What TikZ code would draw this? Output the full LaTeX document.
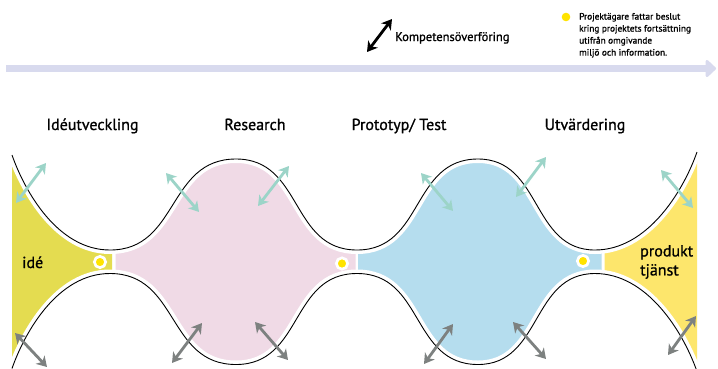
\documentclass[tikz,border=0pt]{standalone}
\usepackage{fontspec}
\setmainfont{PT Sans}
\newfontfamily\medfont{PT Sans}[FakeBold=1.0]
\usetikzlibrary{arrows.meta}

\definecolor{ideyellow}{HTML}{E4DC50}
\definecolor{respink}{HTML}{F0DAE6}
\definecolor{protoblue}{HTML}{B5DDEE}
\definecolor{prodyellow}{HTML}{FDE66C}
\definecolor{dotyellow}{HTML}{FFE300}
\definecolor{arrowteal}{HTML}{9CD4C8}
\definecolor{arrowgrey}{HTML}{7D8180}
\definecolor{timeline}{HTML}{D8DAEE}

% upper and lower outline of the phase funnel
\def\topcurve{(12,155) .. controls (25,192) and (58,250) .. (110,250)
  .. controls (179,250) and (167,159) .. (236,159)
  .. controls (303,159) and (290,250) .. (357,250)
  .. controls (424,250) and (411,159) .. (478,159)
  .. controls (542,159) and (531,250) .. (595,250)
  .. controls (647,250) and (683,192) .. (697,152)}
\def\botcurve{(12,368.5) .. controls (25,331.5) and (58,273.5) .. (110,273.5)
  .. controls (179,273.5) and (167,364.5) .. (236,364.5)
  .. controls (303,364.5) and (290,273.5) .. (357,273.5)
  .. controls (424,273.5) and (411,364.5) .. (478,364.5)
  .. controls (542,364.5) and (531,273.5) .. (595,273.5)
  .. controls (647,273.5) and (683,331.5) .. (697,371.5)}
\def\funnel{(12,155) .. controls (25,192) and (58,250) .. (110,250)
  .. controls (179,250) and (167,159) .. (236,159)
  .. controls (303,159) and (290,250) .. (357,250)
  .. controls (424,250) and (411,159) .. (478,159)
  .. controls (542,159) and (531,250) .. (595,250)
  .. controls (647,250) and (683,192) .. (697,152)
  -- (697,371.5)
  .. controls (683,331.5) and (647,273.5) .. (595,273.5)
  .. controls (531,273.5) and (542,364.5) .. (478,364.5)
  .. controls (411,364.5) and (424,273.5) .. (357,273.5)
  .. controls (290,273.5) and (303,364.5) .. (236,364.5)
  .. controls (167,364.5) and (179,273.5) .. (110,273.5)
  .. controls (58,273.5) and (25,331.5) .. (12,368.5) -- cycle}

\tikzset{
  biarrow/.style={line width=2.8pt,
    {Stealth[length=10pt,width=12pt,inset=3pt]}-{Stealth[length=10pt,width=12pt,inset=3pt]}},
  tealarrow/.style={biarrow, draw=arrowteal},
  greyarrow/.style={biarrow, draw=arrowgrey},
  blackarrow/.style={biarrow, draw=black},
  gapline/.style={draw=white, line width=8pt},
  outline/.style={draw=black, line width=0.9pt},
  decision/.style={circle, fill=dotyellow, draw=white, line width=2.7pt,
    minimum size=11.3pt, inner sep=0pt},
  legenddot/.style={circle, fill=dotyellow, minimum size=8.6pt, inner sep=0pt},
  phasetitle/.style={font=\medfont\fontsize{16}{18}\selectfont, inner sep=0pt, anchor=base},
  phaselabel/.style={font=\medfont\fontsize{16}{19}\selectfont, inner sep=0pt, align=left},
  legendtext/.style={font=\medfont\fontsize{12.5}{14}\selectfont, inner sep=0pt, anchor=base west},
  notetext/.style={font=\medfont\fontsize{9.3}{12}\selectfont, inner sep=0pt, align=left, anchor=north west},
  timelinearrow/.style={draw=timeline, line width=7pt,
    -{Triangle[length=11pt,width=20pt,round]}},
}

\begin{document}
\begin{tikzpicture}[x=1pt,y=-1pt]
\useasboundingbox (0,0) rectangle (718,368);
\clip (0,0) rectangle (718,368);
\fill[white] (0,0) rectangle (718,368);

% coloured phase areas
\begin{scope}\clip (0,0) rectangle (112,368); \fill[ideyellow] \funnel; \end{scope}
\begin{scope}\clip (115.5,0) rectangle (355.5,368); \fill[respink] \funnel; \end{scope}
\begin{scope}\clip (358,0) rectangle (601.5,368); \fill[protoblue] \funnel; \end{scope}
\begin{scope}\clip (604.5,0) rectangle (697,368); \fill[prodyellow] \funnel; \end{scope}

% white margin and black outline
\path[gapline] \topcurve;
\path[gapline] \botcurve;
\path[outline] \topcurve;
\path[outline] \botcurve;

% decision points
\node[decision] (dp1) at (100,262) {};
\node[decision] (dp2) at (342,263.5) {};
\node[decision] (dp3) at (583,261) {};

% knowledge transfer arrows, upper side
\coordinate (ta1) at (16,203);  \coordinate (tb1) at (46,163);
\coordinate (ta2) at (166,173); \coordinate (tb2) at (199,212);
\coordinate (ta3) at (258,206); \coordinate (tb3) at (289,166);
\coordinate (ta4) at (421,173); \coordinate (tb4) at (453,211);
\coordinate (ta5) at (516,197); \coordinate (tb5) at (546,157);
\coordinate (ta6) at (661,170); \coordinate (tb6) at (693,208);
\foreach \i in {1,...,6} \draw[tealarrow] (ta\i) -- (tb\i);

% knowledge transfer arrows, lower side
\coordinate (ga1) at (15,333);  \coordinate (gb1) at (47,367);
\coordinate (ga2) at (172,363); \coordinate (gb2) at (202,323);
\coordinate (ga3) at (255,322); \coordinate (gb3) at (288,360);
\coordinate (ga4) at (424,364); \coordinate (gb4) at (453,324);
\coordinate (ga5) at (513,322); \coordinate (gb5) at (546,359);
\coordinate (ga6) at (668,355); \coordinate (gb6) at (696,316);
\foreach \i in {1,...,6} \draw[greyarrow] (ga\i) -- (gb\i);

% phase labels inside the funnel
\node[phaselabel, anchor=base west] (idea) at (22,268) {idé};
\node[phaselabel, anchor=north west] (product) at (640,245) {produkt\\tjänst};

% phase titles
\node[phasetitle] (ph1) at (92.5,130) {Idéutveckling};
\node[phasetitle] (ph2) at (255,130) {Research};
\node[phasetitle] (ph3) at (399,130) {Prototyp/ Test};
\node[phasetitle] (ph4) at (585,130) {Utvärdering};

% time line
\coordinate (tlstart) at (6,68.5);
\coordinate (tlend) at (716,68.5);
\draw[timelinearrow] (tlstart) -- (tlend);

% legend
\coordinate (ka) at (367,52);
\coordinate (kb) at (392,19);
\draw[blackarrow] (ka) -- (kb);
\node[legendtext] (kt) at (395,41) {Kompetensöverföring};
\node[legenddot] (ld) at (566,17) {};
\node[notetext] (note) at (579,12.8) {Projektägare fattar beslut\\kring projektets fortsättning\\utifrån omgivande\\miljö och information.};
\end{tikzpicture}
\end{document}
